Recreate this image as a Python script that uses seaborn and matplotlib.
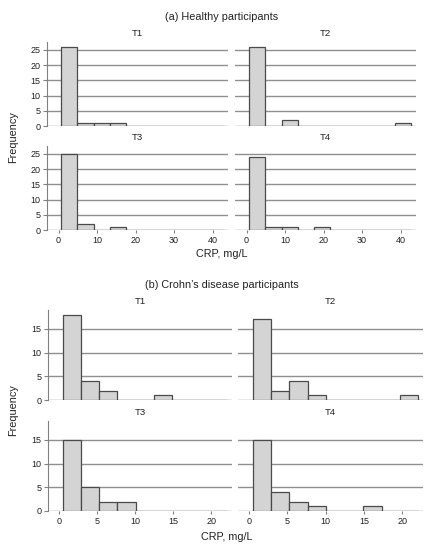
import matplotlib
matplotlib.use('Agg')
from matplotlib import pyplot as plt
import seaborn as sns

# bin edges
a_edges = [0.7, 4.9, 9.1, 13.3, 17.5, 21.7, 25.9, 30.1, 34.3, 38.5, 42.7]
b_edges = [0.5, 2.9, 5.3, 7.7, 10.1, 12.5, 14.9, 17.3, 19.7, 22.1]

# counts per bin, healthy participants
a_T1 = [26, 1, 1, 1, 0, 0, 0, 0, 0, 0]
a_T2 = [26, 0, 2, 0, 0, 0, 0, 0, 0, 1]
a_T3 = [25, 2, 0, 1, 0, 0, 0, 0, 0, 0]
a_T4 = [24, 1, 1, 0, 1, 0, 0, 0, 0, 0]

# counts per bin, Crohn's disease participants
b_T1 = [18, 4, 2, 0, 0, 1, 0, 0, 0]
b_T2 = [17, 2, 4, 1, 0, 0, 0, 0, 1]
b_T3 = [15, 5, 2, 2, 0, 0, 0, 0, 0]
b_T4 = [15, 4, 2, 1, 0, 0, 1, 0, 0]

panel_names = ['T1', 'T2', 'T3', 'T4']
a_ticks_y = [0, 5, 10, 15, 20, 25]
a_ticks_x = [0, 10, 20, 30, 40]
b_ticks_y = [0, 5, 10, 15]
b_ticks_x = [0, 5, 10, 15, 20]

sns.set_style('white')
plt.rcParams['font.family'] = ['Liberation Sans', 'DejaVu Sans']

W, H = 436, 550
fig = plt.figure(figsize=(W / 100, H / 100), dpi=100)


def px_axes(x0, y0, x1, y1):
    return fig.add_axes([x0 / W, 1 - y1 / H, (x1 - x0) / W, (y1 - y0) / H])


def draw_panel(ax, edges, counts, name, yticks, xticks, xlim, ylim, left, bottom):
    sns.histplot(x=edges[:-1], weights=counts, bins=edges, ax=ax,
                 color='#d4d4d4', edgecolor='#4a4a4a', linewidth=0.9, alpha=1)
    ax.set_xlim(*xlim)
    ax.set_ylim(*ylim)
    ax.set_axisbelow(True)
    ax.yaxis.grid(True, color='#8f8f8f', linewidth=1)
    ax.set_yticks(yticks)
    ax.set_xticks(xticks)
    for s in ['top', 'right', 'bottom']:
        ax.spines[s].set_visible(False)
    ax.spines['left'].set_color('#808080')
    ax.spines['left'].set_linewidth(0.8)
    ax.spines['left'].set_visible(left)
    ax.tick_params(axis='y', left=left, labelleft=left, length=3, width=0.8,
                   color='#808080', labelsize=6.5, labelcolor='#222222', pad=1.5)
    ax.tick_params(axis='x', bottom=bottom, labelbottom=bottom, length=2.5, width=0.8,
                   color='#808080', labelsize=6.5, labelcolor='#222222', pad=2)
    ax.set_xlabel('')
    ax.set_ylabel('')
    ax.set_title(name, fontsize=6.8, color='#222222', pad=4)


# (a) healthy participants
a_counts = [a_T1, a_T2, a_T3, a_T4]
a_boxes = [(47, 42, 228, 126), (235, 42, 416, 126),
           (47, 146, 228, 230), (235, 146, 416, 230)]
for i in range(4):
    ax = px_axes(*a_boxes[i])
    draw_panel(ax, a_edges, a_counts[i], panel_names[i], a_ticks_y, a_ticks_x,
               (-3, 44), (0, 27.6), i % 2 == 0, i >= 2)

# (b) Crohn's disease participants
b_counts = [b_T1, b_T2, b_T3, b_T4]
b_boxes = [(48, 310, 232, 400), (238, 310, 423, 400),
           (48, 421, 232, 511), (238, 421, 423, 511)]
for i in range(4):
    ax = px_axes(*b_boxes[i])
    draw_panel(ax, b_edges, b_counts[i], panel_names[i], b_ticks_y, b_ticks_x,
               (-1.4, 22.7), (0, 19), i % 2 == 0, i >= 2)

txt = dict(fontsize=7.8, color='#222222', ha='center', va='center')
fig.text(222 / W, 1 - 17 / H, '(a) Healthy participants', **txt)
fig.text(222 / W, 1 - 254 / H, 'CRP, mg/L', **txt)
fig.text(13 / W, 1 - 137 / H, 'Frequency', rotation=90, **txt)
fig.text(222 / W, 1 - 285 / H, "(b) Crohn\u2019s disease participants", **txt)
fig.text(227 / W, 1 - 537 / H, 'CRP, mg/L', **txt)
fig.text(13 / W, 1 - 410 / H, 'Frequency', rotation=90, **txt)

fig.savefig('out.png', dpi=100)
